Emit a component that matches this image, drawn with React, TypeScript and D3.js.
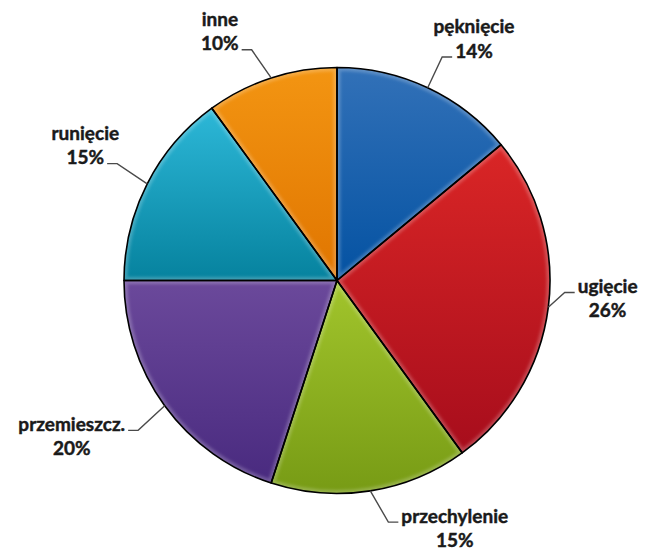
import React from "react";
import * as d3 from "d3";

// Failure types and their share (percent)
const categories = ["pęknięcie", "ugięcie", "przechylenie", "przemieszcz.", "runięcie", "inne"];
const values = [14, 26, 15, 20, 15, 10];
const valueLabels = ["14%", "26%", "15%", "20%", "15%", "10%"];

// Slice colours: lighter top stop, darker bottom stop
const colorsTop = ["#3271b8", "#da2626", "#a2c52c", "#6b499b", "#2db8d8", "#f39512"];
const colorsBottom = ["#0452a2", "#a70d1c", "#779b15", "#492a7f", "#06829e", "#e07500"];

// Leader elbow placement: angle nudge (deg) and distance past the rim
const elbowNudgeDeg = [0, -4.2, -3, -1, 1, -2.3];
const elbowExtra = [34, 15, 34, 36, 36, 33];

const W = 650;
const H = 552;
const CX = 337;
const CY = 280.5;
const R = 213;
const FONT = "bold 19px Lato";
const LINE_GAP = 24.5;

let ctx: CanvasRenderingContext2D | null = null;
function textWidth(s: string): number {
  if (!ctx) ctx = document.createElement("canvas").getContext("2d");
  if (!ctx) return s.length * 9;
  ctx.font = FONT;
  return ctx.measureText(s).width;
}

export default function App() {
  const pie = d3
    .pie<number>()
    .sort(null)
    .value((d) => d);
  const arcs = pie(values);
  const arc = d3.arc<d3.PieArcDatum<number>>().innerRadius(0).outerRadius(R);

  return (
    <svg
      width={W}
      height={H}
      viewBox={`0 0 ${W} ${H}`}
      style={{ position: "absolute", left: 0, top: 0, background: "#fff" }}
    >
      <defs>
        {arcs.map((a, i) => (
          <React.Fragment key={i}>
            <linearGradient id={`g${i}`} x1="0" y1="0" x2="0" y2="1">
              <stop offset="0%" stopColor={colorsTop[i]} />
              <stop offset="100%" stopColor={colorsBottom[i]} />
            </linearGradient>
            <clipPath id={`c${i}`}>
              <path d={arc(a) || ""} transform={`translate(${CX},${CY})`} />
            </clipPath>
          </React.Fragment>
        ))}
        <filter id="soft" x="-10%" y="-10%" width="120%" height="120%">
          <feGaussianBlur stdDeviation="1.6" />
        </filter>
      </defs>

      <g transform={`translate(${CX},${CY})`}>
        {arcs.map((a, i) => (
          <path key={`f${i}`} d={arc(a) || ""} fill={`url(#g${i})`} />
        ))}
      </g>

      {/* inner bevel highlight along each slice edge */}
      {arcs.map((a, i) => (
        <g key={`b${i}`} clipPath={`url(#c${i})`}>
          <path
            d={arc(a) || ""}
            transform={`translate(${CX},${CY})`}
            fill="none"
            stroke="#ffffff"
            strokeOpacity={0.22}
            strokeWidth={7}
            filter="url(#soft)"
          />
        </g>
      ))}

      <g transform={`translate(${CX},${CY})`}>
        {arcs.map((a, i) => (
          <path
            key={`s${i}`}
            d={arc(a) || ""}
            fill="none"
            stroke="#000"
            strokeWidth={1.6}
            strokeLinejoin="round"
          />
        ))}
      </g>

      {/* leader lines and labels */}
      {arcs.map((a, i) => {
        const mid = (a.startAngle + a.endAngle) / 2;
        const edge = [CX + R * Math.sin(mid), CY - R * Math.cos(mid)];
        const ang = mid + (elbowNudgeDeg[i] * Math.PI) / 180;
        const re = R + elbowExtra[i];
        const elbow = [CX + re * Math.sin(ang), CY - re * Math.cos(ang)];
        const dir = Math.sin(mid) >= 0 ? 1 : -1;
        const segEnd = elbow[0] + dir * 10;
        const attachSecond = Math.cos(mid) > 0;
        const l1 = categories[i];
        const l2 = valueLabels[i];
        const attached = attachSecond ? l2 : l1;
        const aw = textWidth(attached);
        const gap = 3;
        const center = dir > 0 ? segEnd + gap + aw / 2 : segEnd - gap - aw / 2;
        const base = elbow[1] + 0.5;
        const y1 = attachSecond ? base - LINE_GAP : base;
        const y2 = attachSecond ? base : base + LINE_GAP;
        const textStyle = { font: FONT };
        return (
          <g key={`l${i}`}>
            <polyline
              points={`${edge[0]},${edge[1]} ${elbow[0]},${elbow[1]} ${segEnd},${elbow[1]}`}
              fill="none"
              stroke="#4a4a4a"
              strokeWidth={1.4}
            />
            <text
              x={center}
              y={y1}
              textAnchor="middle"
              style={textStyle}
              fill="#1a1a1a"
              stroke="#1a1a1a"
              strokeWidth={0.45}
            >
              {l1}
            </text>
            <text
              x={center}
              y={y2}
              textAnchor="middle"
              style={textStyle}
              fill="#1a1a1a"
              stroke="#1a1a1a"
              strokeWidth={0.45}
            >
              {l2}
            </text>
          </g>
        );
      })}
    </svg>
  );
}
